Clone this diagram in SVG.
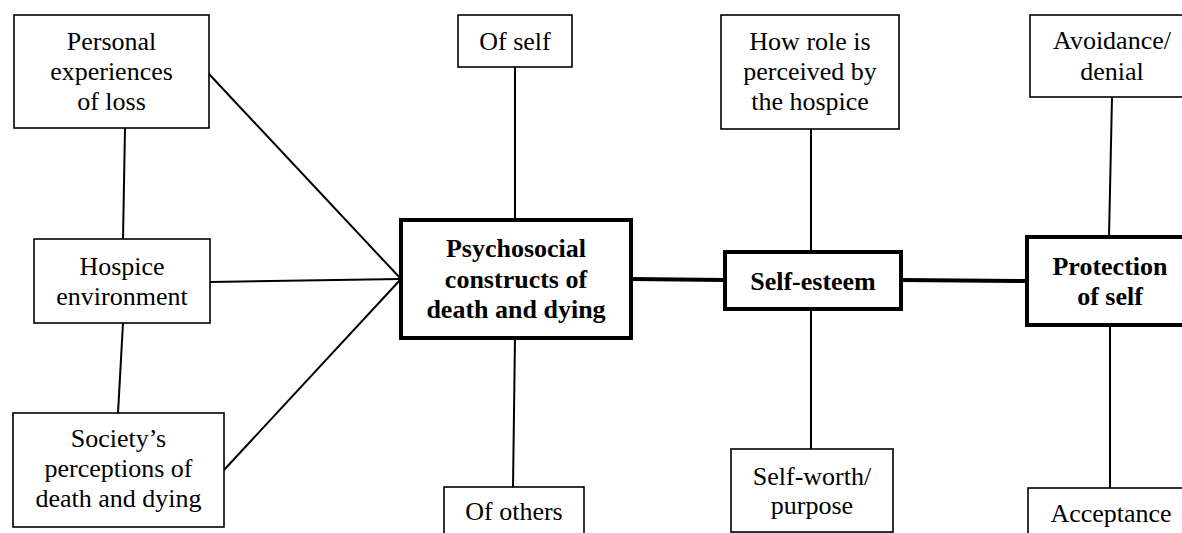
<svg xmlns="http://www.w3.org/2000/svg" width="1182" height="533" viewBox="0 0 1182 533" font-family="Liberation Serif, Times New Roman, serif">
<style>
.box{fill:#fff;stroke:#000;stroke-width:1.6}
.core{fill:#fff;stroke:#000;stroke-width:4}
.t{font-size:26px;fill:#000;text-anchor:middle}
.b{font-weight:bold}
.ln{stroke:#000;stroke-width:2;fill:none}
.thk{stroke:#000;stroke-width:4;fill:none}
</style>
<rect width="1182" height="533" fill="#fff"/>
<g id="connectors">
<line class="ln" x1="125" y1="128" x2="123" y2="239"/>
<line class="ln" x1="123" y1="323" x2="118" y2="413"/>
<line class="ln" x1="209" y1="74" x2="401" y2="279"/>
<line class="ln" x1="210" y1="282" x2="401" y2="279"/>
<line class="ln" x1="224" y1="470" x2="401" y2="279"/>
<line class="ln" x1="515" y1="67" x2="515" y2="220"/>
<line class="ln" x1="515" y1="338" x2="513" y2="487"/>
<line class="thk" x1="631" y1="279" x2="725" y2="280"/>
<line class="ln" x1="811" y1="129" x2="811" y2="252"/>
<line class="ln" x1="811" y1="309" x2="811" y2="449"/>
<line class="thk" x1="901" y1="280" x2="1027" y2="281"/>
<line class="ln" x1="1112" y1="97" x2="1109" y2="237"/>
<line class="ln" x1="1110" y1="325" x2="1110" y2="488"/>
</g>
<g id="personal">
<rect class="box" x="14" y="15" width="195" height="113"/>
<text class="t" x="111.5" y="50">Personal</text>
<text class="t" x="111.5" y="80">experiences</text>
<text class="t" x="111.5" y="110">of loss</text>
</g>
<g id="hospice">
<rect class="box" x="34" y="239" width="176" height="84"/>
<text class="t" x="122" y="275">Hospice</text>
<text class="t" x="122" y="305">environment</text>
</g>
<g id="society">
<rect class="box" x="13" y="413" width="211" height="114"/>
<text class="t" x="118.5" y="447">Society’s</text>
<text class="t" x="118.5" y="477">perceptions of</text>
<text class="t" x="118.5" y="507">death and dying</text>
</g>
<g id="psychosocial">
<rect class="core" x="401" y="220" width="230" height="118"/>
<text class="t b" x="516" y="257">Psychosocial</text>
<text class="t b" x="516" y="288">constructs of</text>
<text class="t b" x="516" y="318">death and dying</text>
</g>
<g id="of-self">
<rect class="box" x="458" y="15" width="114" height="52"/>
<text class="t" x="515" y="50">Of self</text>
</g>
<g id="of-others">
<rect class="box" x="444" y="487" width="140" height="60"/>
<text class="t" x="514" y="520">Of others</text>
</g>
<g id="how-role">
<rect class="box" x="721" y="15" width="178" height="114"/>
<text class="t" x="810" y="50">How role is</text>
<text class="t" x="810" y="80">perceived by</text>
<text class="t" x="810" y="110">the hospice</text>
</g>
<g id="self-esteem">
<rect class="core" x="725" y="252" width="176" height="57"/>
<text class="t b" x="813" y="290">Self-esteem</text>
</g>
<g id="self-worth">
<rect class="box" x="731" y="449" width="162" height="83"/>
<text class="t" x="812" y="485">Self-worth/</text>
<text class="t" x="812" y="514">purpose</text>
</g>
<g id="avoidance">
<rect class="box" x="1030" y="15" width="164" height="82"/>
<text class="t" x="1112" y="49">Avoidance/</text>
<text class="t" x="1112" y="80">denial</text>
</g>
<g id="protection">
<rect class="core" x="1027" y="237" width="167" height="88"/>
<text class="t b" x="1110" y="275">Protection</text>
<text class="t b" x="1110" y="305">of self</text>
</g>
<g id="acceptance">
<rect class="box" x="1028" y="488" width="166" height="60"/>
<text class="t" x="1111" y="522">Acceptance</text>
</g>
</svg>
